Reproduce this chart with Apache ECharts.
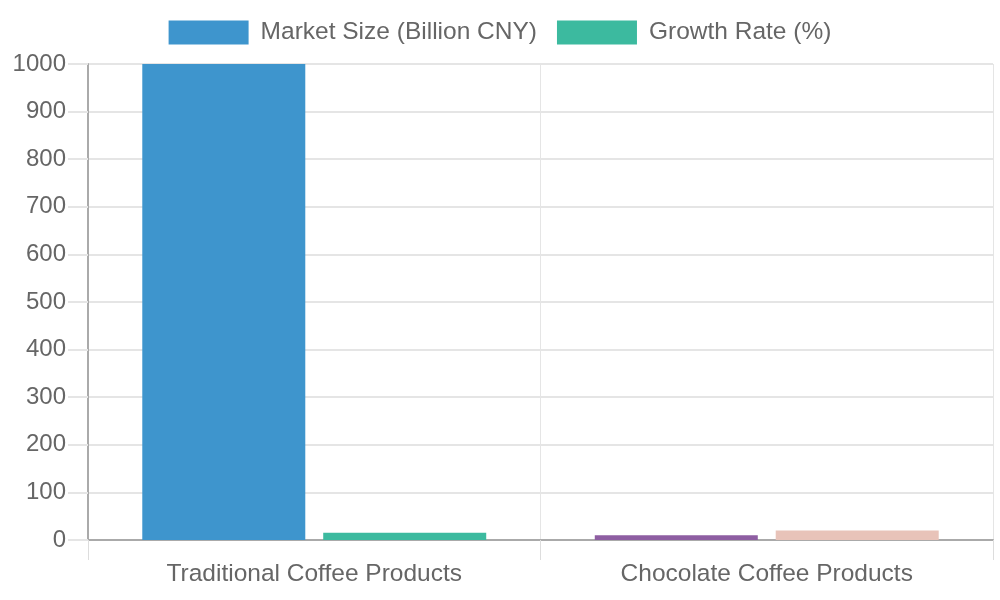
<!DOCTYPE html>
<html>
<head>
<meta charset="utf-8">
<script src="https://cdn.jsdelivr.net/npm/echarts@6/dist/echarts.min.js"></script>
<style>
  html, body { margin: 0; padding: 0; background: #fff; }
  #chart { width: 1000px; height: 600px; }
</style>
</head>
<body>
<div id="chart"></div>
<script>
// 数据
const categories = ['Traditional Coffee Products', 'Chocolate Coffee Products'];
const marketSize = [1000, 10];
const growthRate = [15, 20];
const yTicks = [0, 100, 200, 300, 400, 500, 600, 700, 800, 900, 1000];

// 颜色
const marketColors = ['#3e95cd', '#8e5ea2'];
const growthColors = ['#3cba9f', '#e8c3b9'];

const font = 'Liberation Sans, Arial, sans-serif';

const chart = echarts.init(document.getElementById('chart'));

chart.setOption({
  animation: false,
  legend: {
    top: 15,
    left: 'center',
    itemWidth: 80,
    itemHeight: 24,
    itemGap: 20,
    icon: 'rect',
    textStyle: { fontFamily: font, fontSize: 24.5, color: '#666', padding: [0, 0, 0, 7] },
    data: ['Market Size (Billion CNY)', 'Growth Rate (%)']
  },
  grid: { left: 88, right: 7, top: 64, bottom: 60, containLabel: false },
  xAxis: {
    type: 'category',
    data: categories,
    axisLine: { lineStyle: { color: '#aaa', width: 2 } },
    axisTick: { show: true, length: 20, lineStyle: { color: '#ddd' } },
    splitLine: { show: true, lineStyle: { color: '#e5e5e5' } },
    axisLabel: { fontFamily: font, fontSize: 24.5, color: '#666', margin: 22 }
  },
  yAxis: {
    type: 'value',
    min: yTicks[0],
    max: yTicks[yTicks.length - 1],
    interval: 100,
    axisLine: { show: true, lineStyle: { color: '#aaa', width: 2 } },
    axisTick: { show: true, length: 20, lineStyle: { color: '#e5e5e5', width: 2 } },
    splitLine: { lineStyle: { color: '#e5e5e5', width: 2 } },
    axisLabel: { fontFamily: font, fontSize: 24, color: '#666', margin: 22, formatter: v => String(v) }
  },
  series: [
    {
      name: 'Market Size (Billion CNY)',
      type: 'bar',
      barWidth: 163,
      barGap: '11%',
      itemStyle: { color: marketColors[0] },
      data: marketSize.map((v, i) => ({ value: v, itemStyle: { color: marketColors[i] } }))
    },
    {
      name: 'Growth Rate (%)',
      type: 'bar',
      barWidth: 163,
      itemStyle: { color: growthColors[0] },
      data: growthRate.map((v, i) => ({ value: v, itemStyle: { color: growthColors[i] } }))
    }
  ]
});
</script>
</body>
</html>
